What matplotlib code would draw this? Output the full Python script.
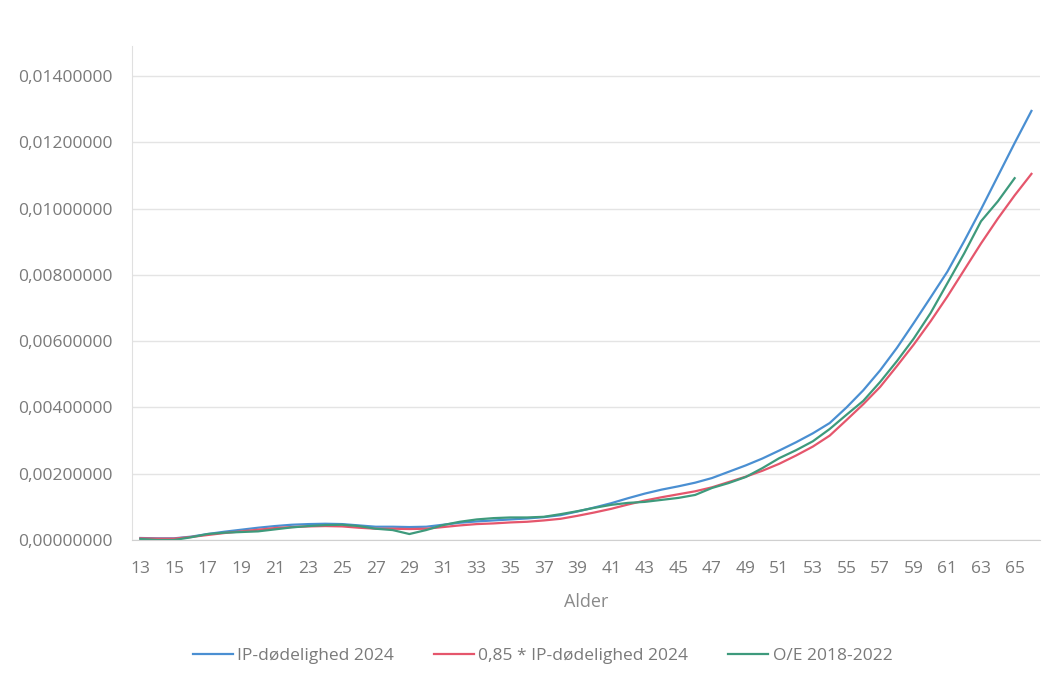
import matplotlib
matplotlib.use("Agg")
import matplotlib.pyplot as plt
from matplotlib.ticker import FuncFormatter

# ages (x-axis categories)
ages = list(range(13, 67))
ages_oe = list(range(13, 66))

# mortality values, in units of 0.001
ip_2024 = [0.06, 0.05, 0.05, 0.10, 0.18, 0.25, 0.31, 0.37, 0.42, 0.46,
           0.48, 0.49, 0.48, 0.44, 0.40, 0.40, 0.39, 0.40, 0.46, 0.52,
           0.56, 0.59, 0.62, 0.65, 0.69, 0.75, 0.86, 0.98, 1.11, 1.26,
           1.40, 1.52, 1.62, 1.73, 1.87, 2.06, 2.25, 2.46, 2.70, 2.95,
           3.22, 3.53, 4.00, 4.52, 5.12, 5.80, 6.55, 7.32, 8.10, 9.02,
           9.98, 10.98, 11.98, 12.95]
ip_2024_85 = [0.05, 0.04, 0.04, 0.09, 0.15, 0.21, 0.26, 0.31, 0.36, 0.39,
              0.41, 0.42, 0.41, 0.37, 0.34, 0.34, 0.33, 0.34, 0.39, 0.44,
              0.48, 0.50, 0.53, 0.55, 0.59, 0.64, 0.73, 0.83, 0.94, 1.07,
              1.19, 1.29, 1.38, 1.47, 1.59, 1.75, 1.91, 2.09, 2.30, 2.55,
              2.82, 3.15, 3.62, 4.10, 4.62, 5.25, 5.90, 6.60, 7.35, 8.15,
              8.95, 9.70, 10.40, 11.05]
oe_2018_2022 = [0.03, 0.00, 0.00, 0.08, 0.18, 0.22, 0.24, 0.26, 0.32, 0.38,
                0.42, 0.45, 0.46, 0.42, 0.34, 0.30, 0.18, 0.30, 0.45, 0.55,
                0.62, 0.66, 0.68, 0.68, 0.70, 0.78, 0.87, 0.97, 1.06, 1.12,
                1.15, 1.21, 1.27, 1.36, 1.57, 1.72, 1.90, 2.17, 2.47, 2.71,
                2.98, 3.35, 3.78, 4.20, 4.77, 5.40, 6.08, 6.85, 7.75, 8.65,
                9.62, 10.22, 10.92]

plt.rcParams['font.family'] = ['Open Sans', 'DejaVu Sans']

fig = plt.figure(figsize=(10.6, 6.8), dpi=100)
ax = fig.add_axes([0.1245, 0.2059, 0.8565, 0.726])

s = 0.001
ax.plot(ages, [v * s for v in ip_2024], color='#4a8fd2', lw=1.6,
        label='IP-dødelighed 2024')
ax.plot(ages, [v * s for v in ip_2024_85], color='#e5566c', lw=1.6,
        label='0,85 * IP-dødelighed 2024')
ax.plot(ages_oe, [v * s for v in oe_2018_2022], color='#3e9a7c', lw=1.6,
        label='O/E 2018-2022')

ax.set_xlim(12.5, 66.5)
ax.set_ylim(0, 0.0149)
ax.set_yticks([i * 0.002 for i in range(8)])
ax.yaxis.set_major_formatter(FuncFormatter(lambda v, p: f"{v:.8f}".replace('.', ',')))
ax.set_xticks(ages[::2])
ax.set_xticklabels([str(a) for a in ages[::2]])

ax.grid(axis='y', color='#e4e4e4', lw=1)
ax.set_axisbelow(True)
for side in ['top', 'right']:
    ax.spines[side].set_visible(False)
ax.spines['left'].set_color('#e0e0e0')
ax.spines['bottom'].set_color('#d0d0d0')
ax.tick_params(length=0, labelsize=12.5, labelcolor='#7a7a7a')
ax.tick_params(axis='x', pad=15)
ax.tick_params(axis='y', pad=14)

ax.set_xlabel('Alder', fontsize=13, color='#8a8a8a', labelpad=12)

fig.legend(loc='lower center', bbox_to_anchor=(0.512, 0.0), ncol=3, frameon=False,
           fontsize=12.5, labelcolor='#7a7a7a', handlelength=2.3,
           columnspacing=2.3, handletextpad=0.25)

fig.savefig('out.png', dpi=100, facecolor='white')
